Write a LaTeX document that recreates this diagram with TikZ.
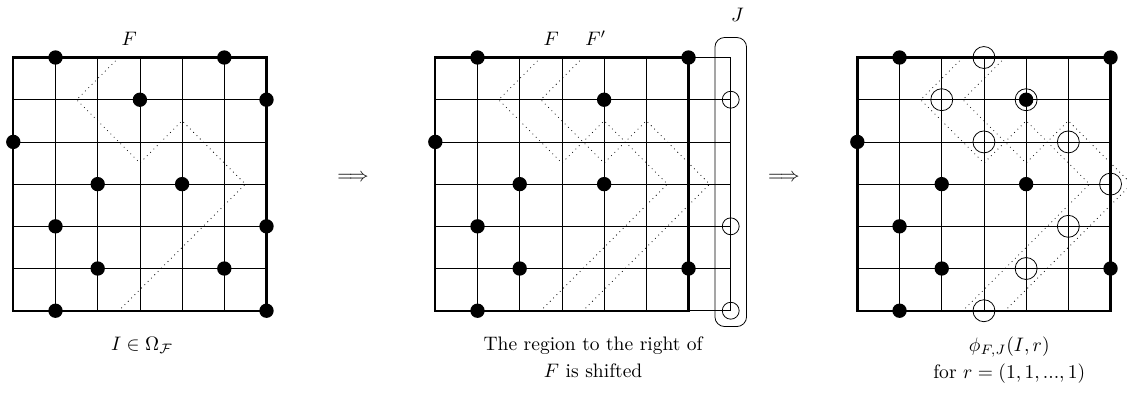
\documentclass[tikz,border=0pt]{standalone}
\usepackage{amsmath,amssymb}
\usetikzlibrary{positioning}

\begin{document}
\begin{tikzpicture}[
    x=0.76cm, y=0.76cm,
    every node/.style={font=\normalsize},
    cell/.style={thin},
    frame/.style={line width=1.2pt},
    walk/.style={dotted, thin},
    dot/.style={fill=black},
    hole/.style={thin},
    lab/.style={align=center, anchor=north, inner sep=1pt},
  ]
  \useasboundingbox (-0.315,-2.164) rectangle (26.39,7.363);

  %% left grid -- the configuration I
  \begin{scope}
    \draw[cell, step=1] (0,0) grid (6,6);
    \draw[frame] (0,0) rectangle (6,6);
    \draw[walk]  (2.5,6) -- (1.5,5) -- (3,3.5) -- (4,4.5) -- (5.5,3) -- (2.5,0);
    \foreach \p in {(1,6),(5,6),(3,5),(6,5),(0,4),(2,3),(4,3),(1,2),(6,2),(2,1),(5,1),(1,0),(6,0)}
      \fill[dot] \p circle (0.17);
    \node (f1)   at (2.75,6.45) {$F$};
    \node[lab] (cap1) at (3.05,-0.57) {$I\in\Omega_{\mathcal{F}}$};
  \end{scope}

  \node (imp1) at (8.05,3.14) {$\Longrightarrow$};

  %% middle grid -- region right of F shifted by one column
  \begin{scope}[shift={(10,0)}]
    \draw[cell, step=1] (0,0) grid (7,6);
    \draw[frame] (0,0) rectangle (6,6);
    \draw[walk]  (2.5,6) -- (1.5,5) -- (3,3.5) -- (4,4.5) -- (5.5,3) -- (2.5,0);
    \draw[walk]  (3.5,6) -- (2.5,5) -- (4,3.5) -- (5,4.5) -- (6.5,3) -- (3.5,0);
    \foreach \p in {(1,6),(6,6),(4,5),(0,4),(2,3),(4,3),(1,2),(2,1),(6,1),(1,0)}
      \fill[dot] \p circle (0.17);
    \foreach \p in {(7,5),(7,2),(7,0)}
      \draw[hole] \p circle (0.2);
    \node[draw, thin, rounded corners=5pt, inner sep=0pt,
          minimum width=0.57cm, minimum height=5.206cm] (jbox) at (7,3.05) {};
    \node[above=4.5pt of jbox, xshift=3.5pt] (jlab) {$J$};
    \node (f2)   at (2.75,6.45) {$F$};
    \node (fp2)  at (3.8,6.45)  {$F'$};
    \node[lab] (cap2) at (3.74,-0.57) {The region to the right of\\[1.5pt]$F$ is shifted};
  \end{scope}

  \node (imp2) at (18.26,3.14) {$\Longrightarrow$};

  %% right grid -- phi_{F,J}(I,r)
  \begin{scope}[shift={(20,0)}]
    \draw[cell, step=1] (0,0) grid (6,6);
    \draw[frame] (0,0) rectangle (6,6);
    \draw[walk]  (2.5,6) -- (1.5,5) -- (3,3.5) -- (4,4.5) -- (5.5,3) -- (2.5,0);
    \draw[walk]  (3.5,6) -- (2.5,5) -- (4,3.5) -- (5,4.5) -- (6.5,3) -- (3.5,0);
    \foreach \p in {(1,6),(6,6),(4,5),(0,4),(2,3),(4,3),(1,2),(2,1),(6,1),(1,0)}
      \fill[dot] \p circle (0.17);
    \foreach \p in {(3,6),(2,5),(4,5),(3,4),(5,4),(6,3),(5,2),(4,1),(3,0)}
      \draw[hole] \p circle (0.26);
    \node[lab] (cap3) at (3.6,-0.57) {$\phi_{F,J}(I,r)$\\[1.5pt]for $r=(1,1,...,1)$};
  \end{scope}
\end{tikzpicture}
\end{document}
